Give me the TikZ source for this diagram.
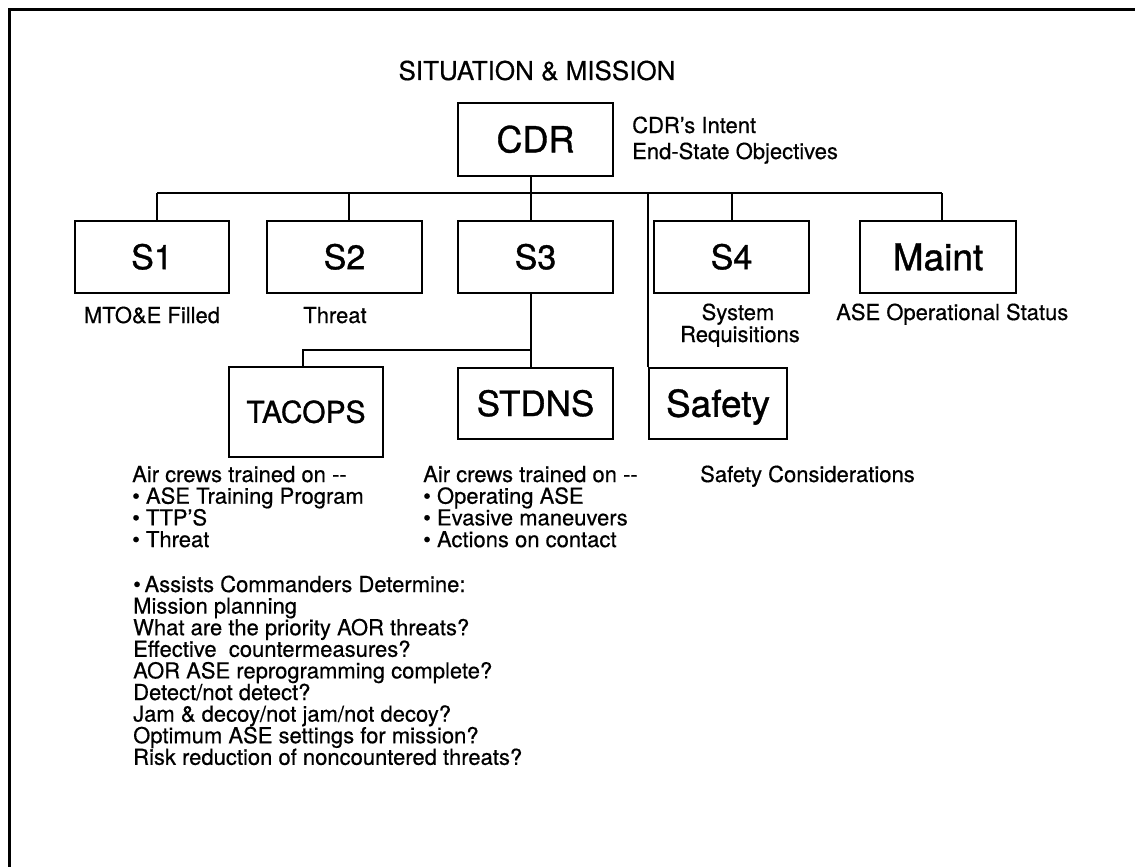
\documentclass[tikz,border=0pt]{standalone}
\usepackage{fontspec}
\setmainfont{TeX Gyre Heros}[FakeBold=0.5]
\newfontfamily\boxfont{TeX Gyre Heros}[FakeBold=1]
\begin{document}
\begin{tikzpicture}[x=1pt,y=-1pt,
  orgbox/.style={draw, line width=2pt, inner sep=0pt, text depth=0pt,
                 minimum width=155pt, minimum height=72pt},
  fS/.style={font=\boxfont\fontsize{34}{34}\selectfont, text height=24.4pt},
  conn/.style={line width=2pt},
  txt/.style={font=\fontsize{22}{22}\selectfont, anchor=base west, inner sep=0pt},
  ctxt/.style={font=\fontsize{22}{22}\selectfont, anchor=base, inner sep=0pt}]
\useasboundingbox (0,0) rectangle (1135,867);
% frame
\draw[line width=3pt] (9.5,867) -- (9.5,10) -- (1135,10);

% title
\node[font=\fontsize{26}{26}\selectfont, anchor=base, inner sep=0pt] (title) at (537,80) {SITUATION \& MISSION};

% commander
\node[orgbox, font=\boxfont\fontsize{36}{36}\selectfont, text height=25.8pt, minimum height=73pt] (cdr) at (535.5,139.5) {CDR};
\node[txt] (intent) at (632,133) {CDR’s Intent};
\node[txt] (endstate) at (632,159) {End-State Objectives};

% staff sections
\node[orgbox, fS, minimum width=154pt] (s1) at (152,257) {S1};
\node[orgbox, fS] (s2) at (344.5,257) {S2};
\node[orgbox, fS] (s3) at (535.5,257) {S3};
\node[orgbox, fS] (s4) at (731.5,257) {S4};
\node[orgbox, font=\boxfont\fontsize{37}{37}\selectfont, text height=26.5pt, minimum width=156pt] (maint) at (938,257) {Maint};

\node[ctxt] (s1txt) at (152,323) {MTO\&E Filled};
\node[ctxt] (s2txt) at (335,323) {Threat};
\node[ctxt] (s4txt1) at (738,320) {System};
\node[ctxt] (s4txt2) at (740,342) {Requisitions};
\node[txt] (mainttxt) at (836,320) {ASE Operational Status};

% S3 subordinate cells and safety
\node[orgbox, font=\boxfont\fontsize{30}{30}\selectfont, text height=21.5pt, minimum width=154pt, minimum height=90pt] (tacops) at (306,412) {TACOPS};
\node[orgbox, font=\boxfont\fontsize{35}{35}\selectfont, text height=25.1pt, minimum height=71pt] (stdns) at (535.5,403.5) {STDNS};
\node[orgbox, font=\boxfont\fontsize{37}{37}\selectfont, text height=26.5pt, minimum width=138pt, minimum height=71pt] (safety) at (718,403.5) {Safety};

% connectors
\coordinate (busL) at (157,193);
\coordinate (busR) at (942,193);
\coordinate (sub) at (531,350);
\draw[conn] (busL) -- (busR);
\draw[conn] ([xshift=5pt]s1.north) -- (busL);
\draw[conn] ([xshift=4.5pt]s2.north) -- ([xshift=4.5pt]s2.north |- busL);
\draw[conn] ([xshift=-4.5pt]cdr.south) -- ([xshift=-4.5pt]s3.north);
\draw[conn] (s4.north) -- (s4.north |- busL);
\draw[conn] ([xshift=4pt]maint.north) -- (busR);
\draw[conn] (safety.north west) -- (safety.north west |- busL);
\draw[conn] ([xshift=-4.5pt]s3.south) -- ([xshift=-4.5pt]stdns.north);
\draw[conn] ([xshift=-3pt]tacops.north) |- (sub);

% training notes
\foreach \ln [count=\i from 0] in {Air crews trained on -{}-,• ASE Training Program,• TTP’S,• Threat}
  \node[txt] (ta\i) at (132,482+21.7*\i) {\ln};
\foreach \ln [count=\i from 0] in {Air crews trained on -{}-,• Operating ASE,• Evasive maneuvers,• Actions on contact}
  \node[txt] (st\i) at (423,482+21.7*\i) {\ln};
\node[txt] (safetxt) at (700,482) {Safety Considerations};

% commander support list
\foreach \ln [count=\i from 0] in {•\,Assists Commanders Determine:,Mission planning,What are the priority AOR threats?,Effective\ \ countermeasures?,AOR ASE reprogramming complete?,Detect/not detect?,Jam \& decoy/not jam/not decoy?,Optimum ASE settings for mission?,Risk reduction of noncountered threats?}
  \node[txt] (q\i) at (133,592+21.6*\i) {\ln};
\end{tikzpicture}
\end{document}
